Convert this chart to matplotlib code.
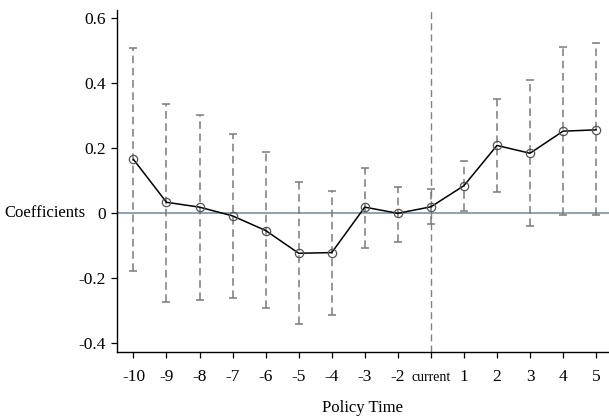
import matplotlib
matplotlib.use("Agg")
import matplotlib.pyplot as plt
import matplotlib.transforms as mtransforms
import numpy as np

plt.rcParams['font.family'] = ['Liberation Serif', 'DejaVu Serif']

labels = ['-10', '-9', '-8', '-7', '-6', '-5', '-4', '-3', '-2', 'current', '1', '2', '3', '4', '5']
coef = [0.165, 0.033, 0.018, -0.009, -0.054, -0.124, -0.122, 0.018, -0.001, 0.019, 0.084, 0.208, 0.184, 0.252, 0.256]
ci_hi = [0.508, 0.337, 0.302, 0.243, 0.187, 0.096, 0.069, 0.139, 0.081, 0.073, 0.161, 0.350, 0.409, 0.511, 0.522]
ci_lo = [-0.178, -0.273, -0.267, -0.262, -0.293, -0.342, -0.313, -0.109, -0.088, -0.034, 0.007, 0.064, -0.040, -0.006, -0.006]
yticks = [-0.4, -0.2, 0, 0.2, 0.4, 0.6]
ytick_labels = ['-0.4', '-0.2', '0', '0.2', '0.4', '0.6']

x = np.arange(len(labels))
coef = np.array(coef)
err = np.array([coef - np.array(ci_lo), np.array(ci_hi) - coef])

fig = plt.figure(figsize=(6.09, 4.19), dpi=100)
ax = fig.add_axes([0.192, 0.160, 0.808, 0.816])

ax.axhline(0, color='#8ea2ae', lw=1.4, zorder=1)
ax.axvline(labels.index('current'), color='#6f8a84', lw=1.0, ls=(0, (5, 3)), zorder=1)

eb = ax.errorbar(x, coef, yerr=err, fmt='none', ecolor='#7a7a7a', elinewidth=1.1,
                 capsize=2.6, capthick=1.1, zorder=2)
eb[2][0].set_linestyle((0, (5, 3)))

ax.plot(x, coef, color='black', lw=1.1, zorder=3)
ax.plot(x, coef, 'o', ms=6, mfc='none', mec='#555555', mew=0.9, zorder=4)

ax.set_xlim(-0.5, 14.39)
ax.set_ylim(-0.428, 0.625)
ax.set_xticks(x)
ax.set_xticklabels(labels)
ax.set_yticks(yticks)
ax.set_yticklabels(ytick_labels)
ax.tick_params(axis='both', direction='out', length=4, width=0.9, labelsize=12.5)
ax.tick_params(axis='x', pad=8)
ax.tick_params(axis='y', pad=4)

# the "current" label is set in a smaller font in the original
shift = mtransforms.ScaledTranslation(0, -1.5 / 72, fig.dpi_scale_trans)
for t in ax.get_xticklabels():
    if t.get_text() == 'current':
        t.set_fontsize(10)
        t.set_transform(t.get_transform() + shift)

for side in ['top', 'right']:
    ax.spines[side].set_visible(False)
ax.spines['left'].set_linewidth(1.0)
ax.spines['bottom'].set_linewidth(1.0)

ax.set_ylabel('Coefficients', rotation=0, fontsize=12, ha='right', va='center')
ax.yaxis.set_label_coords(-0.063, 0.406)
ax.set_xlabel('Policy Time', fontsize=12, labelpad=11)

fig.savefig('out.png', dpi=100)
